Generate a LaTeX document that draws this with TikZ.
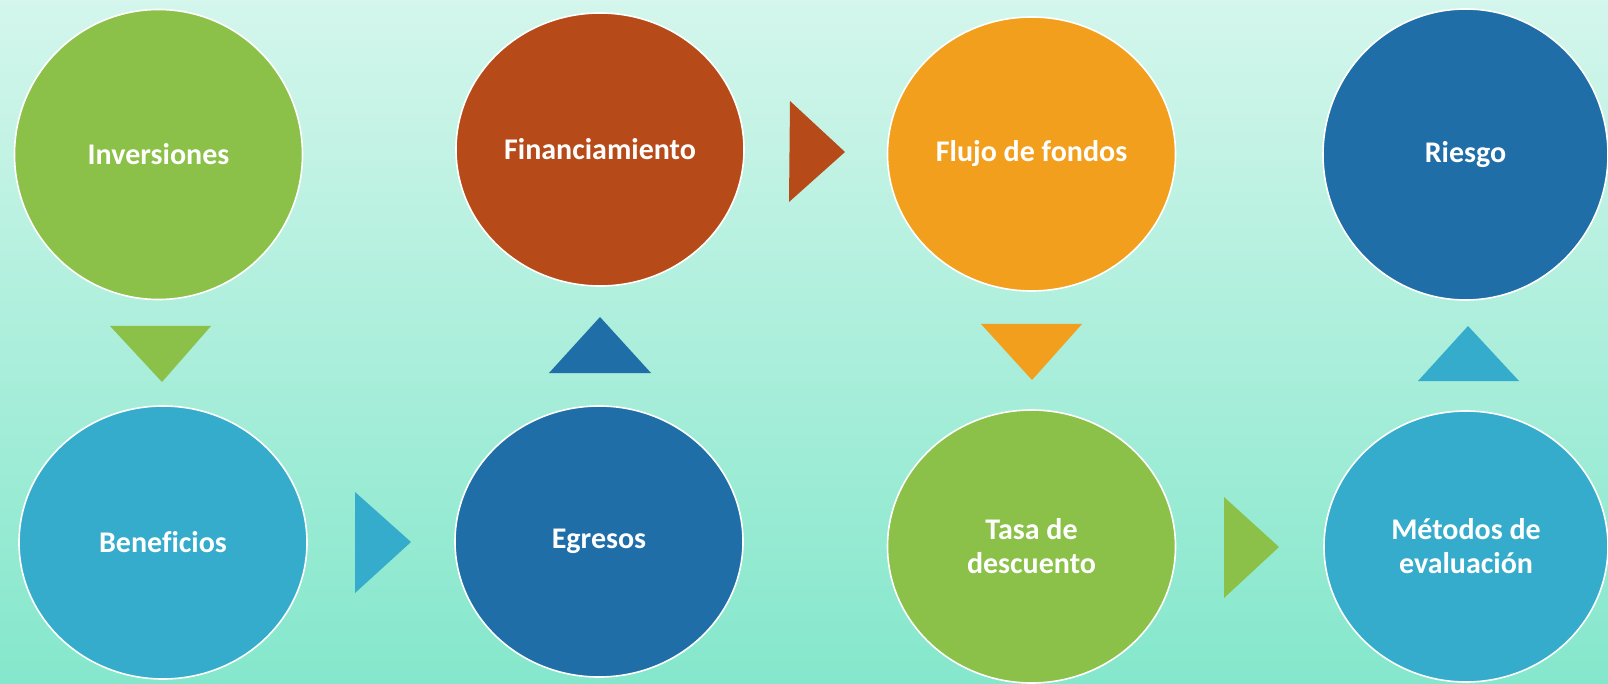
\documentclass[tikz,border=0pt]{standalone}
\usepackage{fontspec}
\setmainfont{Carlito}[Ligatures={NoCommon}]
\usetikzlibrary{shapes.geometric}
\definecolor{bgtop}{HTML}{D4F6EC}
\definecolor{bgbot}{HTML}{84E7CB}
\definecolor{cgreen}{HTML}{8BC148}
\definecolor{ccyan}{HTML}{36ACCD}
\definecolor{cblue}{HTML}{1F6EA8}
\definecolor{crust}{HTML}{B74A19}
\definecolor{corange}{HTML}{F29F1D}
\tikzset{
  bubble/.style={ellipse, draw=white, line width=1.6pt, minimum width=288pt, minimum height=273pt,
    inner sep=0pt, text=white, align=center, font=\bfseries\fontsize{30}{34}\selectfont},
  tri/.style={draw=none}
}
\begin{document}
\begin{tikzpicture}[x=1pt,y=-1pt]
\useasboundingbox (0,0) rectangle (1608,684);
\shade[top color=bgtop, bottom color=bgbot] (0,0) rectangle (1608,684);
% top row
\node[bubble, fill=cgreen, minimum height=290pt] (inv) at (158.5,154.5) {Inversiones};
\node[bubble, fill=crust] (fin) at (600,149.5) {Financiamiento};
\node[bubble, fill=corange, minimum height=274pt] (flu) at (1031.5,154) {Flujo de fondos};
\node[bubble, fill=cblue, minimum width=285pt, minimum height=291pt] (rie) at (1465.5,154.5) {Riesgo};
% bottom row
\node[bubble, fill=ccyan] (ben) at (163,542.5) {Beneficios};
\node[bubble, fill=cblue, minimum height=271pt] (egr) at (599,541.5) {Egresos};
\node[bubble, fill=cgreen] (tas) at (1031.5,546.5) {Tasa de\\descuento};
\node[bubble, fill=ccyan, minimum width=284pt, minimum height=271pt] (met) at (1466,546.5) {Métodos de\\evaluación};
% triangle connectors
\fill[cgreen] (110,326) -- (211,326) -- (162,382) -- cycle;
\fill[ccyan] (355,492) -- (355,593) -- (411,542) -- cycle;
\fill[cblue] (549,373) -- (651,373) -- (600,317) -- cycle;
\fill[crust] (790,101) -- (789,202) -- (845,152) -- cycle;
\fill[corange] (981,324) -- (1082,324) -- (1032,380) -- cycle;
\fill[cgreen] (1224,497) -- (1224,598) -- (1279,547) -- cycle;
\fill[ccyan] (1418,381) -- (1519,381) -- (1468,326) -- cycle;
\end{tikzpicture}
\end{document}
